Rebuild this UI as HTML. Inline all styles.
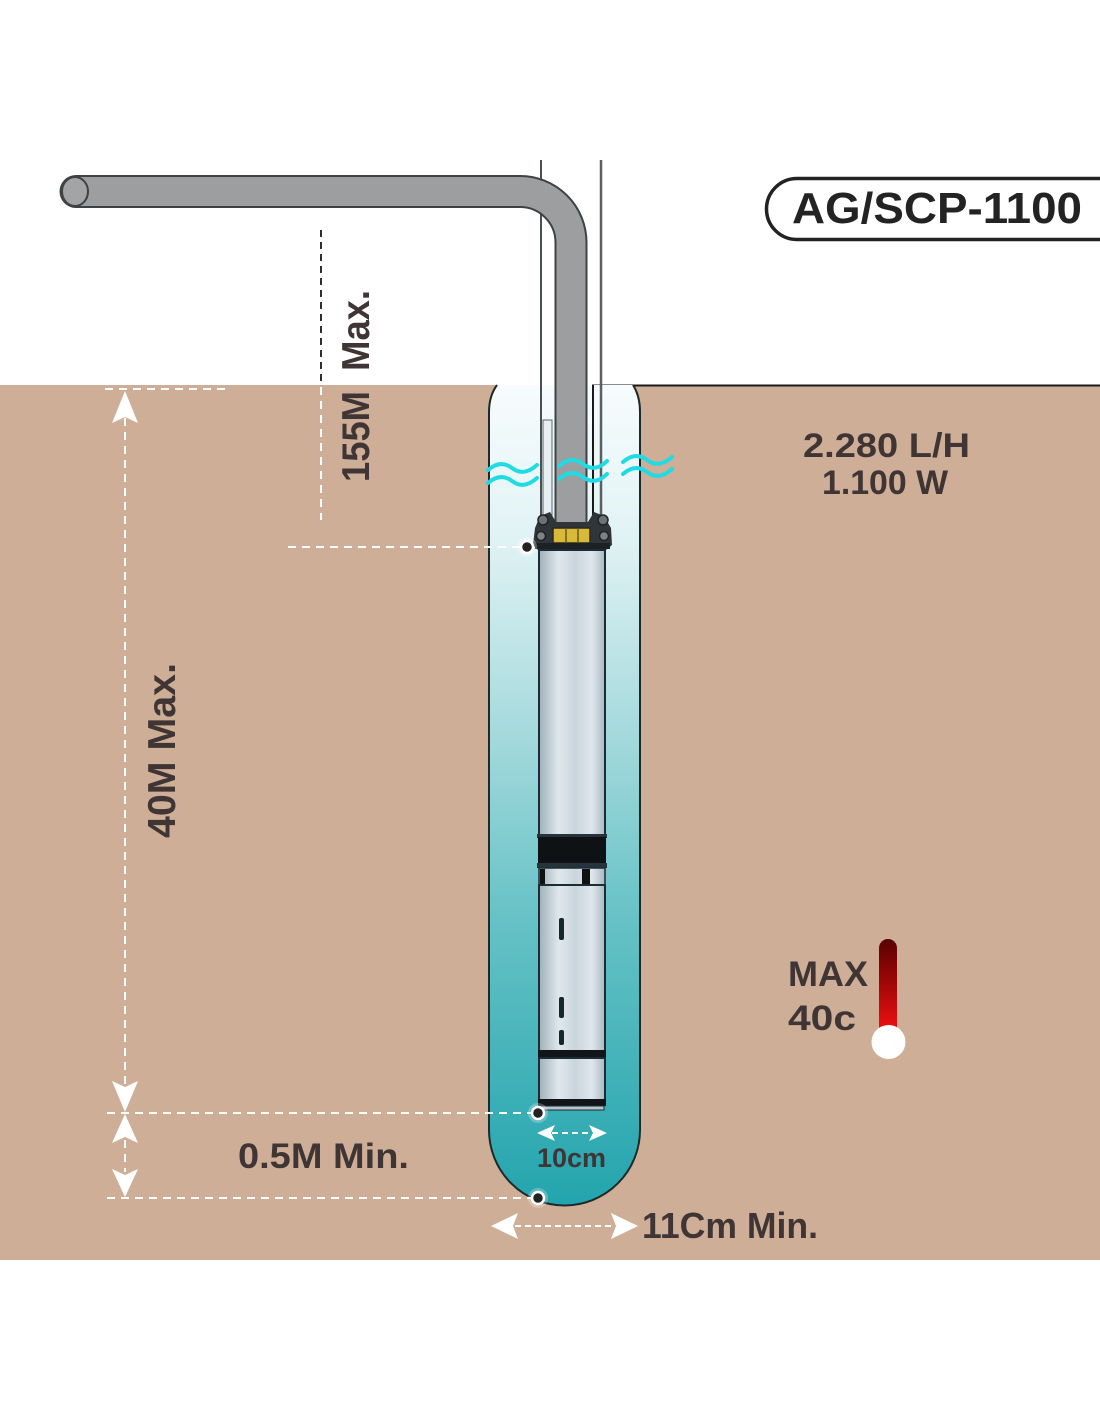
<!DOCTYPE html>
<html>
<head>
<meta charset="utf-8">
<style>
  html, body { margin:0; padding:0; background:#ffffff; }
  body { width:1100px; height:1422px; overflow:hidden; }
  svg { display:block; }
  text { font-family: "Liberation Sans", sans-serif; font-weight:bold; fill:#3f3535; }
</style>
</head>
<body>
<svg width="1100" height="1422" viewBox="0 0 1100 1422" xmlns="http://www.w3.org/2000/svg">
  <defs>
    <linearGradient id="water" x1="0" y1="385" x2="0" y2="1206" gradientUnits="userSpaceOnUse">
      <stop offset="0" stop-color="#f7fcfd"/>
      <stop offset="0.18" stop-color="#e2f3f5"/>
      <stop offset="0.42" stop-color="#a6dadd"/>
      <stop offset="0.65" stop-color="#66c2c6"/>
      <stop offset="1" stop-color="#23a4ad"/>
    </linearGradient>
    <linearGradient id="metal" x1="539" y1="0" x2="605" y2="0" gradientUnits="userSpaceOnUse">
      <stop offset="0" stop-color="#9fb0ba"/>
      <stop offset="0.3" stop-color="#e0e8ed"/>
      <stop offset="0.55" stop-color="#c9d5dc"/>
      <stop offset="0.8" stop-color="#dfe7ec"/>
      <stop offset="1" stop-color="#a9b8c1"/>
    </linearGradient>
    <linearGradient id="therm" x1="0" y1="940" x2="0" y2="1030" gradientUnits="userSpaceOnUse">
      <stop offset="0" stop-color="#5a0202"/>
      <stop offset="0.5" stop-color="#a30707"/>
      <stop offset="1" stop-color="#ee1111"/>
    </linearGradient>
  </defs>

  <!-- ground -->
  <rect x="0" y="385" width="1100" height="875" fill="#ceae96"/>
  <line x1="592" y1="385.5" x2="1100" y2="385.5" stroke="#1a1a1a" stroke-width="2"/>

  <!-- well -->
  <path d="M 497 385 Q 489 396 489 412 L 489 1130 A 75.5 75.5 0 0 0 640 1130 L 640 412 Q 640 396 633 385 Z" fill="url(#water)"/>
  <path d="M 497 385 Q 489 396 489 412 L 489 1130 A 75.5 75.5 0 0 0 640 1130 L 640 412 Q 640 396 633 385" fill="none" stroke="#1c2a2a" stroke-width="2"/>

  <!-- cables -->
  <line x1="541" y1="160" x2="541" y2="518" stroke="#4a4f52" stroke-width="2"/>
  <line x1="601" y1="160" x2="601" y2="518" stroke="#5a5f62" stroke-width="2.5"/>
  <line x1="593" y1="385" x2="593" y2="518" stroke="#1a1a1a" stroke-width="2"/>
  <rect x="543" y="420" width="9" height="96" fill="#e6eef1" stroke="#59666c" stroke-width="1"/>

  <!-- pipe -->
  <path d="M 76 191.5 L 520 191.5 A 51 51 0 0 1 571 242.5 L 571 530" fill="none" stroke="#3e4244" stroke-width="33" stroke-linecap="round"/>
  <path d="M 76 191.5 L 520 191.5 A 51 51 0 0 1 571 242.5 L 571 530" fill="none" stroke="#9d9e9f" stroke-width="29" stroke-linecap="round"/>
  <ellipse cx="75" cy="191.5" rx="13" ry="14.5" fill="#a3a4a5" stroke="#3e4244" stroke-width="2"/>

  <!-- pump head -->
  <path d="M 535 528 L 540 516 L 550 512 L 556 522 L 588 522 L 594 512 L 604 516 L 611 528 L 612 545 L 606 550 L 538 550 L 533 545 Z" fill="#2f3538"/>
  <circle cx="543" cy="520" r="5" fill="#6b7278" stroke="#222" stroke-width="1.5"/>
  <circle cx="603" cy="520" r="5" fill="#6b7278" stroke="#222" stroke-width="1.5"/>
  <circle cx="541" cy="536" r="4.5" fill="#7b8288" stroke="#222" stroke-width="1.5"/>
  <circle cx="604" cy="536" r="4.5" fill="#7b8288" stroke="#222" stroke-width="1.5"/>
  <rect x="553" y="528" width="37" height="15" fill="#d9b93a" stroke="#2a2a1a" stroke-width="1.5"/>
  <line x1="566" y1="528" x2="566" y2="543" stroke="#6a5a1a" stroke-width="1.5"/>
  <line x1="578" y1="528" x2="578" y2="543" stroke="#6a5a1a" stroke-width="1.5"/>
  <rect x="535" y="543" width="75" height="6" fill="#1c2124"/>

  <!-- pump body upper -->
  <rect x="539" y="550" width="66" height="286" fill="url(#metal)" stroke="#1d2c34" stroke-width="2"/>
  <!-- black band -->
  <rect x="537" y="834" width="70" height="4" fill="#26333a"/>
  <rect x="538" y="837" width="68" height="27" fill="#0f1214"/>
  <rect x="537" y="863" width="70" height="5" fill="#26333a"/>
  <!-- small band -->
  <rect x="539" y="868" width="66" height="17" fill="url(#metal)" stroke="#1d2c34" stroke-width="1.5"/>
  <rect x="540" y="869" width="5" height="15" fill="#111"/>
  <rect x="582" y="869" width="8" height="15" fill="#111"/>
  <!-- lower body -->
  <rect x="539" y="885" width="66" height="166" fill="url(#metal)" stroke="#1d2c34" stroke-width="2"/>
  <rect x="559" y="918" width="5" height="22" rx="2" fill="#17252c"/>
  <rect x="559" y="997" width="5" height="21" rx="2" fill="#17252c"/>
  <rect x="559" y="1030" width="5" height="15" rx="2" fill="#17252c"/>
  <rect x="538" y="1050" width="68" height="8" fill="#111517"/>
  <rect x="539" y="1058" width="66" height="42" fill="url(#metal)" stroke="#1d2c34" stroke-width="2"/>
  <rect x="538" y="1099" width="68" height="7" fill="#111517"/>
  <rect x="540" y="1106" width="64" height="4" fill="#b8c4ca" stroke="#1d2c34" stroke-width="1"/>

  <!-- waves -->
  <g fill="none" stroke="#1fdbe4" stroke-width="4" stroke-linecap="round">
    <path d="M 488 470 c 8 -7 16 -8 24 -2 s 16 5 25 -3"/>
    <path d="M 488 483 c 8 -7 16 -8 24 -2 s 16 5 25 -3"/>
    <path d="M 559 466 c 8 -7 16 -8 24 -2 s 16 5 24 -3"/>
    <path d="M 559 479 c 8 -7 16 -8 24 -2 s 16 5 24 -3"/>
    <path d="M 623 462 c 8 -7 16 -8 24 -2 s 16 5 25 -3"/>
    <path d="M 623 474 c 8 -7 16 -8 24 -2 s 16 5 25 -3"/>
  </g>

  <!-- dark dashed line above ground -->
  <line x1="321" y1="230" x2="321" y2="385" stroke="#2e2e2e" stroke-width="2" stroke-dasharray="7 5"/>

  <!-- white dashed lines -->
  <g stroke="#ffffff" stroke-width="2" stroke-dasharray="8 6" fill="none">
    <line x1="321" y1="387" x2="321" y2="520"/>
    <line x1="105" y1="389" x2="228" y2="389"/>
    <line x1="125" y1="418" x2="125" y2="1085"/>
    <line x1="288" y1="547" x2="527" y2="547"/>
    <line x1="107" y1="1113" x2="538" y2="1113"/>
    <line x1="107" y1="1198" x2="538" y2="1198"/>
    <line x1="125" y1="1140" x2="125" y2="1172"/>
    <line x1="552" y1="1133" x2="592" y2="1133" stroke-dasharray="6 4"/>
    <line x1="515" y1="1226" x2="614" y2="1226" stroke-dasharray="6 4"/>
  </g>

  <!-- arrowheads -->
  <g fill="#ffffff">
    <path d="M 125 391 L 138 423 L 125 417 L 112 423 Z"/>
    <path d="M 125 1112 L 138 1081 L 125 1087 L 112 1081 Z"/>
    <path d="M 125 1114 L 138 1143 L 125 1137 L 112 1143 Z"/>
    <path d="M 125 1197 L 138 1169 L 125 1175 L 112 1169 Z"/>
    <path d="M 537 1133 L 555 1125 L 551 1133 L 555 1141 Z"/>
    <path d="M 607 1133 L 589 1125 L 593 1133 L 589 1141 Z"/>
    <path d="M 491 1226 L 518 1213 L 513 1226 L 518 1239 Z"/>
    <path d="M 638 1226 L 611 1213 L 616 1226 L 611 1239 Z"/>
  </g>

  <!-- dots -->
  <g>
    <circle cx="527" cy="547" r="10" fill="#ffffff" opacity="0.3"/>
    <circle cx="527" cy="547" r="6" fill="#232323" stroke="#ffffff" stroke-width="2.5"/>
    <circle cx="538" cy="1113" r="10" fill="#ffffff" opacity="0.25"/>
    <circle cx="538" cy="1113" r="6" fill="#232323" stroke="#ffffff" stroke-width="2.5"/>
    <circle cx="538" cy="1198" r="10" fill="#ffffff" opacity="0.25"/>
    <circle cx="538" cy="1198" r="6" fill="#232323" stroke="#ffffff" stroke-width="2.5"/>
  </g>

  <!-- thermometer -->
  <rect x="879" y="939" width="18" height="100" rx="9" fill="url(#therm)"/>
  <circle cx="888.5" cy="1042" r="17" fill="#ffffff"/>

  <!-- model label -->
  <path d="M 1102 178.5 L 797 178.5 A 30 30 0 0 0 797 239.5 L 1102 239.5" fill="#ffffff" stroke="#222222" stroke-width="3.5"/>
  <text x="792" y="223" font-size="44" textLength="290" lengthAdjust="spacingAndGlyphs" style="fill:#232323">AG/SCP-1100</text>

  <!-- labels -->
  <text x="803" y="457" font-size="34" textLength="167" lengthAdjust="spacingAndGlyphs">2.280 L/H</text>
  <text x="822" y="494" font-size="34" textLength="126" lengthAdjust="spacingAndGlyphs">1.100 W</text>
  <text x="788" y="986" font-size="35" textLength="80" lengthAdjust="spacingAndGlyphs">MAX</text>
  <text x="788" y="1030" font-size="35" textLength="68" lengthAdjust="spacingAndGlyphs">40c</text>
  <text x="238" y="1168" font-size="35" textLength="171" lengthAdjust="spacingAndGlyphs">0.5M Min.</text>
  <text x="537" y="1167" font-size="27" textLength="69" lengthAdjust="spacingAndGlyphs">10cm</text>
  <text x="642" y="1238" font-size="36" textLength="176" lengthAdjust="spacingAndGlyphs">11Cm Min.</text>

  <text transform="translate(369 482) rotate(-90)" x="0" y="0" font-size="39" textLength="192" lengthAdjust="spacingAndGlyphs" xml:space="preserve">155M  Max.</text>
  <text transform="translate(175 838) rotate(-90)" x="0" y="0" font-size="39" textLength="175" lengthAdjust="spacingAndGlyphs">40M Max.</text>
</svg>
</body>
</html>
